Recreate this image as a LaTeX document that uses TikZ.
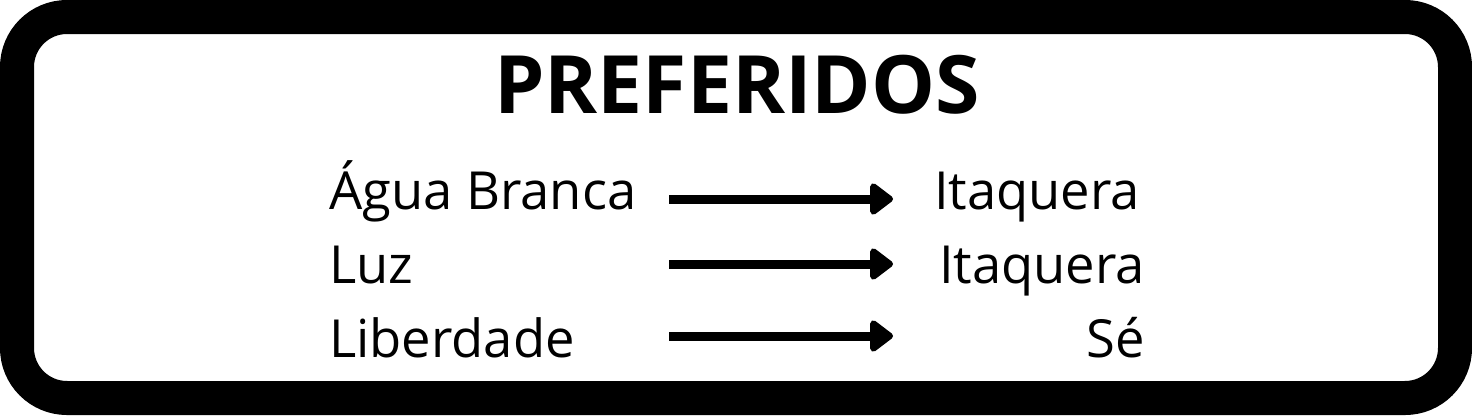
\documentclass[tikz,border=0pt]{standalone}
\usepackage{fontspec}
\setmainfont{Open Sans}
\usetikzlibrary{arrows.meta}

\begin{document}
\begin{tikzpicture}[x=1pt, y=-1pt,
    station/.style={font=\fontsize{52.5}{60}\selectfont, inner sep=0pt},
    route/.style={line width=9pt, -{Triangle[length=25pt, width=36pt, round]}}]
  \useasboundingbox (0,0) rectangle (1472,415);
  \draw[line width=34pt, rounded corners=50pt] (17,17) rectangle (1455,398);
  \node[font=\bfseries\fontsize{80.5}{90}\selectfont, inner sep=0pt, anchor=base] (title) at (737,113) {PREFERIDOS};

  \node[station, anchor=base west] (agua) at (329,209) {Água Branca};
  \node[station, anchor=base west] (luz) at (329,283) {Luz};
  \node[station, anchor=base west] (liberdade) at (329,357) {Liberdade};

  \node[station, anchor=base east] (itaquera1) at (1140,209) {Itaquera};
  \node[station, anchor=base east] (itaquera2) at (1145,283) {Itaquera};
  \node[station, anchor=base east] (se) at (1145,357) {Sé};

  \coordinate (s1) at (669,199);  \coordinate (e1) at (893,199);
  \coordinate (s2) at (669,264);  \coordinate (e2) at (893,264);
  \coordinate (s3) at (669,336);  \coordinate (e3) at (893,336);
  \draw[route] (s1) -- (e1);
  \draw[route] (s2) -- (e2);
  \draw[route] (s3) -- (e3);
\end{tikzpicture}
\end{document}
